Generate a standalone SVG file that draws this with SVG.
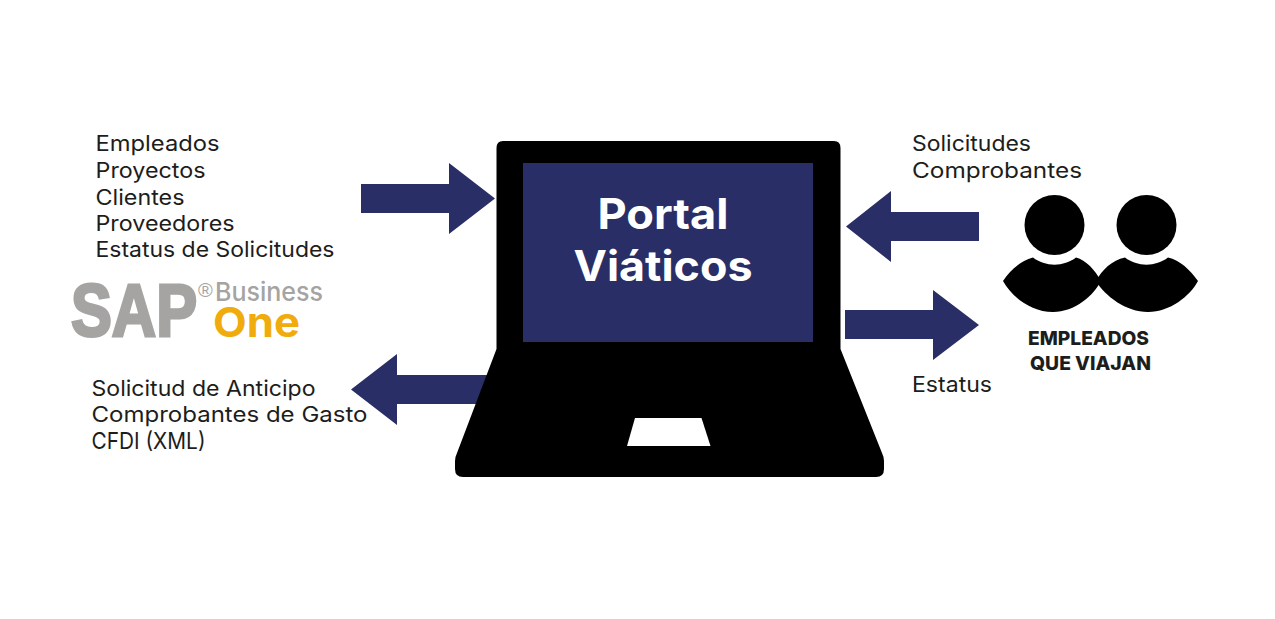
<svg xmlns="http://www.w3.org/2000/svg" width="1275" height="619" viewBox="0 0 1275 619">
<style>
.t{font-family:"Inter","Noto Sans",sans-serif;font-size:21.5px;fill:#1d1d1b}
.a{fill:#292e66}
.b{fill:#000}
.h{font-family:"Inter","Noto Sans",sans-serif;font-weight:800;font-size:19px;fill:#1d1d1b}
.p{font-family:"Inter","Noto Sans",sans-serif;font-weight:700;font-size:42px;fill:#fff}
</style>
<rect width="1275" height="619" fill="#fff"/>
<g id="connectors">
<polygon class="a" points="361,184 449,184 449,163 495,198.500 449,234 449,213 361,213"/>
<polygon class="a" points="979,212 891,212 891,191 846,226.500 891,262 891,241 979,241"/>
<polygon class="a" points="845,310 933,310 933,290 979,325 933,360 933,339 845,339"/>
<polygon class="a" points="490,375 397,375 397,354 351,389.500 397,425 397,404 490,404"/>
</g>
<g id="laptop">
<path class="b" d="M503,141H834Q840.500,141 840.500,148V349L882,453Q884,457 884,461V469Q884,477 876,477H463Q455,477 455,469V461Q455,457 457,453L496.500,349V148Q496.500,141 503,141Z"/>
<rect class="a" x="523" y="163" width="290" height="179"/>
<polygon fill="#fff" points="635,418 701.500,418 710.500,446 627,446"/>
<text class="p" x="663" y="229" text-anchor="middle" textLength="131" lengthAdjust="spacingAndGlyphs">Portal</text>
<text class="p" x="663" y="281" text-anchor="middle" textLength="179" lengthAdjust="spacingAndGlyphs">Viáticos</text>
</g>
<g id="sap-input">
<text class="t" x="95.500" y="151" textLength="124" lengthAdjust="spacingAndGlyphs">Empleados</text>
<text class="t" x="95.500" y="178" textLength="110" lengthAdjust="spacingAndGlyphs">Proyectos</text>
<text class="t" x="95.500" y="205" textLength="89" lengthAdjust="spacingAndGlyphs">Clientes</text>
<text class="t" x="95.500" y="231" textLength="139" lengthAdjust="spacingAndGlyphs">Proveedores</text>
<text class="t" x="95.500" y="257" textLength="239" lengthAdjust="spacingAndGlyphs">Estatus de Solicitudes</text>
</g>
<g id="sap-logo">
<text x="71" y="336" font-family="'Liberation Sans',sans-serif" font-weight="700" font-size="74" fill="#a5a4a2" stroke="#a5a4a2" stroke-width="3" textLength="126" lengthAdjust="spacingAndGlyphs">SAP</text>
<text x="198" y="297" font-family="'Liberation Sans',sans-serif" font-size="20" fill="#a5a4a2">®</text>
<text x="215" y="301" font-family="'Inter',sans-serif" font-weight="500" font-size="26" fill="#a5a4a2" textLength="108" lengthAdjust="spacingAndGlyphs">Business</text>
<text x="213" y="337" font-family="'Inter',sans-serif" font-weight="700" font-size="41" fill="#f0ab0c" textLength="87" lengthAdjust="spacingAndGlyphs">One</text>
</g>
<g id="sap-output">
<text class="t" x="91.500" y="396" textLength="224" lengthAdjust="spacingAndGlyphs">Solicitud de Anticipo</text>
<text class="t" x="91.500" y="422" textLength="276" lengthAdjust="spacingAndGlyphs">Comprobantes de Gasto</text>
<text class="t" x="91.500" y="449" font-size="22" textLength="114" lengthAdjust="spacingAndGlyphs" style="font-size:23px">CFDI (XML)</text>
</g>
<g id="employee-input">
<text class="t" x="912" y="151" textLength="119" lengthAdjust="spacingAndGlyphs">Solicitudes</text>
<text class="t" x="912" y="178" textLength="170" lengthAdjust="spacingAndGlyphs">Comprobantes</text>
</g>
<text id="employee-output" class="t" x="912" y="392" textLength="80" lengthAdjust="spacingAndGlyphs">Estatus</text>
<g id="employees">
<circle class="b" cx="1054.500" cy="225" r="30"/>
<circle class="b" cx="1146.500" cy="225" r="30"/>
<path class="b" d="M1003,281C1011,269 1021,261 1033,257.500C1045,267 1064,267 1076,257.500C1086,260 1095,270 1101,281C1094,295 1075,312 1053,312C1031,312 1012,297 1003,281Z"/>
<path class="b" d="M1096,281C1102,270 1112,260 1125,257.500C1137,267 1156,267 1168,257.500C1180,260 1190,270 1198,281C1190,296 1170,312 1148,312C1126,312 1105,296 1096,281Z"/>
<text class="h" x="1028" y="345" textLength="121" lengthAdjust="spacingAndGlyphs">EMPLEADOS</text>
<text class="h" x="1030" y="370" textLength="121" lengthAdjust="spacingAndGlyphs">QUE VIAJAN</text>
</g>
</svg>
